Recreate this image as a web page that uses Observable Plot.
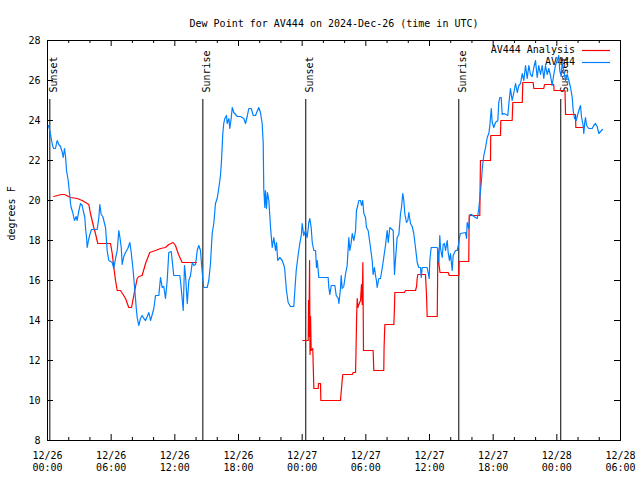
<!DOCTYPE html>
<html><head><meta charset="utf-8">
<script src="https://cdn.jsdelivr.net/npm/d3@7"></script>
<script src="https://cdn.jsdelivr.net/npm/@observablehq/plot@0.6"></script>
<style>body{margin:0;background:#fff} svg{display:block}</style>
</head><body><div id="chart"></div>
<script>
// ---- data (hours after 2024-12-26 00:00 UTC, dew point in °F) ----
const titleText = "Dew Point for AV444 on 2024-Dec-26 (time in UTC)";
const yLabel = "degrees F";
const legendLabels = ["AV444 Analysis", "AV444"];
const legendColors = ["#ff0000", "#0080ff"];

const sunLabels = ["Sunset", "Sunrise", "Sunset", "Sunrise", "Sunset"];
const sunHours = [0.22, 14.64, 24.34, 38.76, 48.37];

const xTickHours = [0, 6, 12, 18, 24, 30, 36, 42, 48, 54];
const xTickLabels = ["12/26\n00:00", "12/26\n06:00", "12/26\n12:00", "12/26\n18:00", "12/27\n00:00",
  "12/27\n06:00", "12/27\n12:00", "12/27\n18:00", "12/28\n00:00", "12/28\n06:00"];
const yTicks = [8, 10, 12, 14, 16, 18, 20, 22, 24, 26, 28];

const observed = [
[0.08,23.75],[0.22,23.5],[0.35,23.1],[0.50,22.7],[0.59,22.6],[0.75,22.6],[0.91,23.0],[1.06,22.8],[1.23,22.7],[1.39,22.4],[1.48,22.15],[1.60,22.6],[1.70,22.2],[1.79,21.5],[1.95,21.0],[2.07,20.4],[2.17,19.85],[2.23,19.65],[2.38,19.4],[2.54,19.0],[2.70,19.2],[2.80,19.0],[2.92,19.4],[3.11,19.85],[3.27,19.75],[3.36,19.5],[3.52,19.15],[3.58,18.65],[3.68,18.15],[3.74,17.65],[3.86,18.0],[3.99,18.3],[4.15,18.55],[4.68,18.55],[4.84,19.15],[4.93,19.8],[5.06,19.3],[5.21,19.2],[5.47,18.65],[5.63,17.45],[5.78,17.0],[6.10,16.9],[6.25,16.6],[6.41,17.1],[6.57,17.5],[6.72,18.5],[6.81,18.2],[6.95,17.65],[7.04,16.8],[7.19,17.2],[7.35,17.4],[7.57,17.6],[7.76,17.9],[7.89,17.4],[8.08,16.45],[8.23,15.5],[8.36,14.65],[8.45,14.15],[8.60,13.75],[8.76,14.1],[8.92,14.25],[9.08,14.1],[9.24,14.0],[9.40,14.2],[9.55,14.4],[9.71,14.0],[9.87,14.3],[10.02,14.6],[10.18,15.25],[10.49,15.25],[10.65,16.15],[10.81,15.65],[10.96,15.7],[11.12,15.1],[11.28,16.0],[11.43,17.4],[11.66,17.45],[11.75,17.0],[11.90,16.25],[12.47,16.25],[12.53,16.0],[12.69,15.1],[12.79,14.5],[12.91,16.75],[13.00,16.3],[13.17,14.85],[13.32,16.0],[13.48,16.25],[13.64,16.9],[13.79,16.75],[13.95,16.8],[14.11,17.5],[14.26,17.75],[14.42,17.5],[14.51,16.85],[14.67,15.9],[14.73,15.65],[15.05,15.65],[15.20,16.0],[15.36,16.85],[15.52,18.35],[15.67,18.85],[15.83,19.85],[15.99,20.1],[16.14,20.6],[16.30,21.25],[16.40,22.0],[16.52,23.35],[16.61,23.85],[16.71,24.1],[16.87,24.25],[16.93,23.85],[17.09,24.1],[17.18,23.6],[17.31,24.1],[17.41,24.65],[17.56,24.4],[17.88,24.2],[18.19,24.2],[18.50,24.1],[18.66,23.85],[18.82,24.2],[18.97,24.6],[19.20,24.6],[19.39,24.25],[19.60,24.25],[19.91,24.65],[20.07,24.4],[20.23,23.85],[20.33,22.85],[20.38,20.6],[20.48,19.65],[20.54,20.5],[20.64,19.6],[20.73,20.4],[20.86,20.0],[21.02,18.65],[21.18,17.65],[21.33,18.15],[21.49,17.5],[21.58,17.9],[21.70,17.0],[21.89,17.15],[22.12,17.0],[22.34,16.65],[22.52,15.5],[22.68,14.9],[22.90,14.7],[23.21,14.7],[23.31,15.5],[23.44,16.5],[23.59,17.15],[23.72,17.65],[23.94,18.35],[24.00,18.85],[24.15,18.25],[24.31,18.5],[24.47,18.15],[24.63,18.9],[24.72,19.1],[24.85,18.65],[24.95,17.9],[25.10,17.5],[25.26,17.5],[25.35,16.65],[25.42,17.0],[25.57,16.15],[26.45,16.15],[26.51,15.65],[26.61,15.3],[26.74,15.75],[27.08,15.75],[27.21,15.25],[27.40,15.1],[27.46,14.85],[27.61,15.6],[27.68,16.25],[27.77,15.6],[27.92,15.7],[28.08,16.3],[28.24,16.75],[28.34,17.65],[28.40,18.15],[28.49,17.5],[28.60,17.8],[28.72,18.35],[28.87,18.0],[29.03,18.5],[29.12,19.5],[29.24,19.75],[29.34,20.0],[29.50,20.0],[29.59,19.75],[29.71,20.0],[29.81,19.35],[29.97,19.15],[30.06,18.65],[30.22,18.5],[30.44,17.65],[30.60,17.0],[30.69,16.3],[30.81,16.65],[30.91,16.25],[31.00,16.0],[31.07,15.65],[31.22,16.1],[31.38,16.1],[31.54,16.6],[31.69,17.15],[31.85,17.75],[32.01,18.5],[32.11,17.9],[32.26,18.65],[32.58,18.5],[32.70,16.3],[32.79,17.0],[32.95,18.15],[33.11,18.3],[33.27,19.35],[33.36,19.65],[33.48,20.35],[33.58,20.0],[33.67,19.35],[33.83,18.9],[33.96,19.0],[34.05,19.4],[34.21,18.85],[34.37,18.7],[34.52,18.35],[34.68,17.65],[34.84,16.9],[34.99,16.65],[35.15,16.65],[35.22,16.15],[35.31,16.65],[35.78,16.65],[35.97,16.1],[36.03,17.0],[36.16,17.65],[36.73,17.65],[36.82,17.4],[36.88,16.9],[36.97,18.25],[37.04,17.6],[37.20,17.15],[37.29,17.8],[37.41,17.85],[37.51,17.5],[37.67,18.0],[37.76,17.4],[37.88,17.0],[37.98,17.35],[38.14,16.5],[38.23,17.25],[38.45,17.5],[38.61,17.5],[38.76,17.85],[38.86,18.25],[38.92,18.35],[39.39,18.4],[39.49,18.1],[39.55,18.9],[39.70,18.6],[39.80,19.3],[39.96,19.3],[40.18,19.2],[40.50,19.1],[40.65,19.6],[40.74,20.1],[40.88,20.9],[41.00,21.75],[41.12,22.25],[41.28,22.65],[41.44,23.15],[41.59,23.35],[41.69,23.75],[41.82,24.6],[41.91,23.9],[42.06,23.65],[42.22,23.9],[42.44,24.0],[42.53,24.9],[42.63,25.15],[42.76,25.15],[42.85,24.3],[43.01,24.35],[43.38,24.25],[43.48,24.85],[43.63,25.6],[43.79,25.0],[43.95,25.4],[44.11,25.85],[44.27,25.4],[44.42,25.75],[44.58,25.85],[44.74,26.35],[44.89,26.0],[45.05,26.75],[45.21,26.1],[45.36,26.75],[45.52,26.3],[45.68,26.2],[45.83,26.65],[45.99,27.0],[46.15,26.15],[46.30,26.75],[46.46,26.3],[46.62,26.75],[46.77,26.1],[46.93,26.75],[47.09,26.3],[47.24,26.6],[47.40,26.25],[47.56,25.75],[47.71,26.3],[47.87,26.75],[48.03,27.0],[48.18,27.25],[48.28,26.5],[48.41,26.2],[48.50,26.85],[48.66,26.5],[48.82,26.0],[48.97,26.3],[49.13,26.0],[49.29,25.65],[49.45,25.15],[49.54,24.5],[49.67,24.1],[49.82,24.0],[49.97,24.3],[50.13,24.6],[50.23,24.75],[50.32,24.2],[50.48,23.75],[50.54,23.35],[50.63,23.9],[50.70,24.15],[50.80,23.75],[51.01,23.6],[51.33,23.6],[51.48,23.75],[51.64,23.85],[51.80,23.7],[51.96,23.35],[52.12,23.45],[52.30,23.55]
];

const analysis = [
[0.59,20.2],[0.94,20.25],[1.32,20.3],[1.60,20.3],[2.17,20.15],[2.80,20.1],[3.27,20.0],[3.58,19.9],[3.89,19.8],[4.05,19.35],[4.36,18.65],[4.52,18.35],[4.74,17.85],[5.94,17.85],[6.10,17.35],[6.25,16.65],[6.41,16.0],[6.57,15.5],[6.88,15.5],[7.35,15.1],[7.66,14.65],[7.92,14.65],[8.13,15.25],[8.45,16.1],[8.60,16.2],[8.92,16.25],[9.24,16.85],[9.64,17.4],[10.18,17.5],[10.65,17.6],[11.12,17.65],[11.43,17.8],[11.85,17.9],[12.06,17.75],[12.35,17.3],[12.69,16.9],[14.04,16.9],
[19.0,null],
[24.06,13.0],[24.57,13.0],[24.60,15.0],[24.63,13.2],[24.70,17.0],[24.74,12.3],[24.79,14.2],[24.85,12.5],[25.00,12.6],[25.07,11.2],[25.10,10.6],[25.51,10.6],[25.54,10.85],[25.73,10.85],[25.76,10.0],[27.61,10.0],[27.77,11.0],[27.83,11.3],[28.72,11.3],[28.80,11.4],[29.03,11.4],[29.07,12.35],[29.14,14.35],[29.19,15.1],[29.25,14.65],[29.34,14.8],[29.50,15.0],[29.59,15.8],[29.66,14.8],[29.72,16.9],[29.78,12.5],[30.69,12.5],[30.75,11.5],[31.69,11.5],[31.72,12.65],[31.79,13.8],[32.64,13.8],[32.70,14.65],[32.73,15.4],[33.64,15.4],[33.74,15.5],[34.68,15.5],[34.78,15.7],[34.84,16.1],[34.90,16.3],[35.62,16.3],[35.72,15.25],[35.78,14.2],[36.73,14.2],[36.76,15.8],[36.78,17.6],[36.87,16.9],[36.99,16.4],[37.76,16.4],[37.86,16.25],[38.76,16.25],[38.78,16.95],[39.70,16.95],[39.74,19.25],[40.74,19.25],[40.80,22.0],[41.75,22.0],[41.77,23.25],[42.69,23.25],[42.72,24.0],[43.79,24.0],[43.85,24.9],[44.74,24.9],[44.79,25.9],[45.77,25.9],[45.83,25.6],[46.77,25.6],[46.84,25.8],[47.71,25.8],[47.74,25.5],[48.77,25.5],[48.82,24.3],[49.76,24.3],[49.79,23.65],[50.61,23.65]
];

// ---- build ----
const base = Date.UTC(2024, 11, 26);
const toDate = h => new Date(base + h * 3600e3);
const toHours = d => Math.round((d - base) / 3600e3);

const obsData = observed.map(([h, v]) => ({t: toDate(h), v}));
const anaData = analysis.map(([h, v]) => ({t: toDate(h), v: v == null ? NaN : v}));
const sunData = sunHours.map((h, i) => ({t: toDate(h), label: sunLabels[i]}));
const xTickDates = xTickHours.map(toDate);
const xMinorDates = d3.utcHour.every(2).range(toDate(0), toDate(54.01)).filter(d => toHours(d) % 6 !== 0);

const W = 640, H = 480, ML = 47, MR = 20, MT = 40, MB = 40;
const FW = W - ML - MR, FH = H - MT - MB;
const MAJ = 6, MIN = 3;
const FONT = "'DejaVu Sans Mono', 'Liberation Mono', monospace";

const legend = (index, scales, values, dims) => {
  const w = dims ? dims.width : W, mr = dims ? dims.marginRight : MR, mt = dims ? dims.marginTop : MT;
  const g = d3.create("svg:g").attr("font-family", FONT).attr("font-size", 10);
  const xr = w - mr;
  legendLabels.forEach((lab, i) => {
    const y = mt + 10 + i * 12;
    g.append("text").attr("x", xr - 45).attr("y", y).attr("dy", "0.32em")
      .attr("text-anchor", "end").attr("fill", "black").text(lab);
    g.append("line").attr("x1", xr - 38).attr("x2", xr - 10).attr("y1", y + 0.5).attr("y2", y + 0.5)
      .attr("stroke", legendColors[i]).attr("stroke-width", 1.2);
  });
  return g.node();
};

const chart = Plot.plot({
  width: W, height: H,
  marginLeft: ML, marginRight: MR, marginTop: MT, marginBottom: MB,
  style: {fontFamily: FONT, fontSize: "10px", background: "white", color: "black"},
  x: {type: "utc", domain: [toDate(0), toDate(54)]},
  y: {domain: [8, 28]},
  marks: [
    Plot.frame({stroke: "black", strokeWidth: 1}),
    // inward ticks (gnuplot style, mirrored)
    Plot.tickX(xTickDates, {x: d => d, insetTop: FH - MAJ, stroke: "black"}),
    Plot.tickX(xTickDates, {x: d => d, insetBottom: FH - MAJ, stroke: "black"}),
    Plot.tickX(xMinorDates, {x: d => d, insetTop: FH - MIN, stroke: "black"}),
    Plot.tickX(xMinorDates, {x: d => d, insetBottom: FH - MIN, stroke: "black"}),
    Plot.tickY(yTicks, {y: d => d, insetRight: FW - MAJ, stroke: "black"}),
    Plot.tickY(yTicks, {y: d => d, insetLeft: FW - MAJ, stroke: "black"}),
    Plot.axisX(xTickDates, {tickSize: 0, tickPadding: 10, lineHeight: 1.2, label: null,
      tickFormat: d => xTickLabels[xTickHours.indexOf(toHours(d))]}),
    Plot.axisY(yTicks, {tickSize: 0, tickPadding: 7, label: null}),
    // sunrise / sunset markers
    Plot.ruleX(sunData, {x: "t", insetTop: 59, stroke: "black", strokeWidth: 1}),
    Plot.text(sunData, {x: "t", text: "label", frameAnchor: "top", dy: 52, rotate: -90,
      textAnchor: "start", fill: "black"}),
    legend,
    Plot.line(anaData, {x: "t", y: "v", stroke: legendColors[0], strokeWidth: 1.2}),
    Plot.line(obsData, {x: "t", y: "v", stroke: legendColors[1], strokeWidth: 1.2}),
    Plot.text([titleText], {text: d => d, frameAnchor: "top", dy: -21, fill: "black"}),
    Plot.text([yLabel], {text: d => d, frameAnchor: "left", rotate: -90, dx: -36, fill: "black"})
  ]
});
document.getElementById("chart").appendChild(chart);
</script></body></html>
